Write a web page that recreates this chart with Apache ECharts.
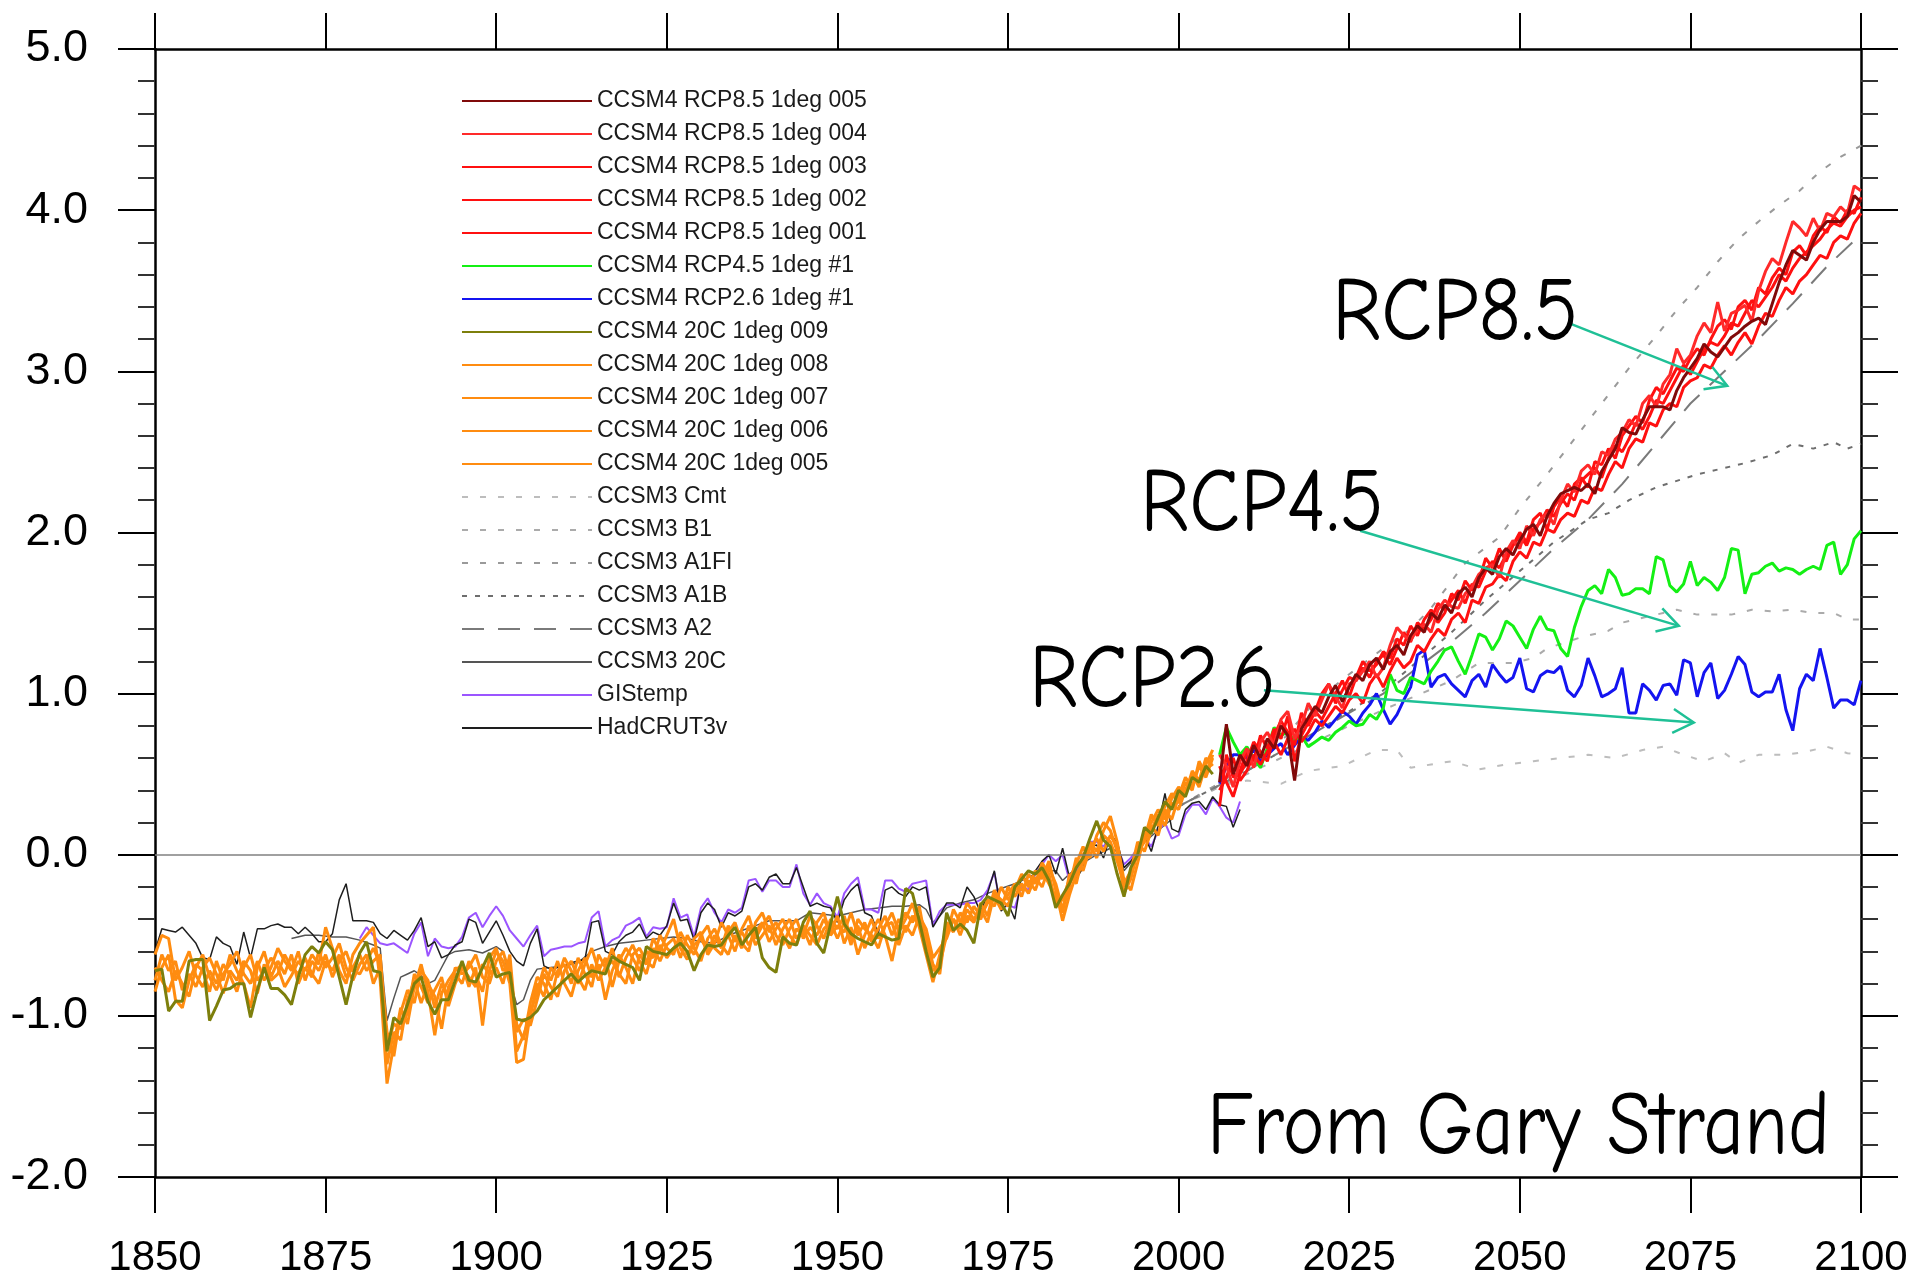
<!DOCTYPE html>
<html>
<head>
<meta charset="utf-8">
<script src="https://cdn.jsdelivr.net/npm/echarts@6/dist/echarts.min.js"></script>
<style>
  html, body { margin: 0; padding: 0; background: #fff; }
  #chart { width: 1911px; height: 1282px; }
</style>
</head>
<body>
<div id="chart"></div>
<script>
// ---- data (global mean temperature anomaly, deg C) ----
const xTicks = [1850, 1875, 1900, 1925, 1950, 1975, 2000, 2025, 2050, 2075, 2100];
const yTicks = [-2, -1, 0, 1, 2, 3, 4, 5];

// CCSM4 20th century runs, annual 1850-2005
const histStart = 1850;
const hist009 = [
  -0.72,-0.71,-0.97,-0.91,-0.91,-0.66,-0.65,-0.65,-1.03,-0.94,
  -0.84,-0.83,-0.80,-0.80,-1.01,-0.84,-0.70,-0.83,-0.83,-0.87,
  -0.93,-0.76,-0.62,-0.57,-0.61,-0.54,-0.59,-0.76,-0.93,-0.75,
  -0.61,-0.54,-0.72,-0.73,-1.22,-1.01,-1.05,-0.93,-0.80,-0.76,
  -0.91,-0.99,-0.90,-0.90,-0.78,-0.66,-0.78,-0.79,-0.70,-0.61,
  -0.76,-0.74,-0.73,-1.02,-1.03,-1.01,-0.97,-0.90,-0.86,-0.82,
  -0.78,-0.74,-0.79,-0.75,-0.72,-0.73,-0.74,-0.63,-0.66,-0.68,
  -0.70,-0.78,-0.57,-0.60,-0.61,-0.62,-0.58,-0.55,-0.60,-0.72,
  -0.62,-0.56,-0.57,-0.56,-0.50,-0.45,-0.56,-0.50,-0.45,-0.64,
  -0.70,-0.73,-0.51,-0.55,-0.56,-0.42,-0.35,-0.55,-0.61,-0.43,
  -0.26,-0.43,-0.49,-0.52,-0.54,-0.56,-0.49,-0.51,-0.53,-0.52,
  -0.21,-0.24,-0.41,-0.60,-0.76,-0.70,-0.36,-0.47,-0.43,-0.47,
  -0.55,-0.31,-0.26,-0.28,-0.30,-0.38,-0.20,-0.15,-0.10,-0.12,
  -0.08,-0.16,-0.33,-0.25,-0.18,-0.08,-0.02,0.10,0.21,0.09,
  0.05,-0.12,-0.26,-0.08,0.00,0.17,0.13,0.23,0.33,0.28,
  0.40,0.36,0.48,0.45,0.55,0.50
];
const hist008 = [
  -0.62,-0.50,-0.52,-0.78,-0.70,-0.60,-0.75,-0.82,-0.72,-0.80,
  -0.68,-0.75,-0.85,-0.70,-0.62,-0.78,-0.72,-0.64,-0.70,-0.82,
  -0.75,-0.66,-0.72,-0.62,-0.68,-0.45,-0.58,-0.72,-0.80,-0.62,
  -0.55,-0.50,-0.45,-0.78,-1.42,-1.18,-0.95,-1.05,-0.82,-0.68,
  -0.85,-1.12,-0.86,-0.78,-0.72,-0.68,-0.82,-0.70,-1.06,-0.72,
  -0.60,-0.66,-0.80,-1.29,-1.27,-0.98,-0.85,-0.70,-0.78,-0.66,
  -0.80,-0.88,-0.72,-0.64,-0.76,-0.68,-0.90,-0.72,-0.62,-0.70,
  -0.80,-0.62,-0.68,-0.52,-0.60,-0.50,-0.40,-0.58,-0.65,-0.52,
  -0.48,-0.62,-0.55,-0.42,-0.50,-0.60,-0.46,-0.38,-0.52,-0.44,
  -0.38,-0.50,-0.56,-0.46,-0.40,-0.52,-0.45,-0.50,-0.40,-0.48,
  -0.38,-0.55,-0.45,-0.62,-0.50,-0.40,-0.52,-0.44,-0.36,-0.48,
  -0.40,-0.30,-0.45,-0.62,-0.79,-0.62,-0.45,-0.40,-0.50,-0.38,
  -0.42,-0.30,-0.38,-0.22,-0.30,-0.25,-0.18,-0.26,-0.12,-0.18,
  -0.05,-0.12,-0.30,-0.28,-0.15,-0.06,0.05,-0.02,0.12,0.20,
  0.15,0.02,-0.20,-0.12,0.05,0.10,0.25,0.18,0.30,0.38,
  0.32,0.45,0.40,0.58,0.50,0.62
];
const hist007 = [
  -0.85,-0.70,-0.62,-0.90,-0.95,-0.78,-0.68,-0.72,-0.85,-0.66,
  -0.78,-0.62,-0.72,-0.80,-0.95,-0.70,-0.60,-0.76,-0.66,-0.74,
  -0.62,-0.80,-0.70,-0.76,-0.60,-0.70,-0.64,-0.55,-0.70,-0.78,
  -0.68,-0.62,-0.80,-0.70,-1.30,-1.10,-1.15,-0.90,-0.78,-0.92,
  -0.80,-0.88,-1.08,-0.82,-0.74,-0.80,-0.66,-0.75,-0.85,-0.64,
  -0.58,-0.72,-0.68,-1.22,-1.12,-1.00,-0.80,-0.88,-0.70,-0.76,
  -0.64,-0.72,-0.80,-0.68,-0.58,-0.72,-0.64,-0.82,-0.66,-0.58,
  -0.64,-0.72,-0.60,-0.64,-0.50,-0.58,-0.62,-0.48,-0.56,-0.62,
  -0.50,-0.44,-0.58,-0.62,-0.48,-0.42,-0.55,-0.60,-0.42,-0.36,
  -0.48,-0.42,-0.50,-0.58,-0.46,-0.50,-0.38,-0.44,-0.52,-0.40,
  -0.46,-0.38,-0.52,-0.44,-0.58,-0.48,-0.40,-0.50,-0.66,-0.45,
  -0.36,-0.42,-0.32,-0.55,-0.72,-0.68,-0.50,-0.34,-0.42,-0.30,
  -0.36,-0.40,-0.28,-0.32,-0.20,-0.28,-0.22,-0.12,-0.20,-0.10,
  -0.15,-0.04,-0.22,-0.41,-0.25,-0.12,-0.05,0.08,0.02,0.15,
  0.24,0.08,-0.16,-0.22,-0.05,0.12,0.20,0.28,0.22,0.35,
  0.42,0.38,0.52,0.46,0.60,0.55
];
const hist006 = [
  -0.70,-0.78,-0.85,-0.72,-0.80,-0.88,-0.70,-0.62,-0.76,-0.84,
  -0.74,-0.68,-0.60,-0.74,-0.80,-0.66,-0.78,-0.70,-0.58,-0.66,
  -0.72,-0.60,-0.78,-0.66,-0.72,-0.62,-0.76,-0.66,-0.60,-0.72,
  -0.74,-0.66,-0.58,-0.68,-1.10,-1.25,-0.98,-0.84,-0.92,-0.72,
  -0.78,-0.95,-0.80,-0.88,-0.70,-0.74,-0.70,-0.62,-0.76,-0.80,
  -0.66,-0.60,-0.74,-1.05,-1.15,-0.92,-0.76,-0.80,-0.90,-0.72,
  -0.68,-0.80,-0.64,-0.74,-0.82,-0.62,-0.70,-0.58,-0.76,-0.64,
  -0.56,-0.66,-0.74,-0.58,-0.66,-0.56,-0.52,-0.64,-0.50,-0.58,
  -0.66,-0.52,-0.46,-0.56,-0.62,-0.50,-0.58,-0.44,-0.56,-0.50,
  -0.44,-0.56,-0.46,-0.40,-0.52,-0.46,-0.56,-0.42,-0.36,-0.50,
  -0.44,-0.48,-0.36,-0.50,-0.42,-0.54,-0.46,-0.38,-0.50,-0.40,
  -0.48,-0.38,-0.44,-0.50,-0.68,-0.74,-0.42,-0.48,-0.36,-0.42,
  -0.32,-0.38,-0.30,-0.26,-0.34,-0.20,-0.26,-0.18,-0.24,-0.14,
  -0.20,-0.08,-0.18,-0.34,-0.20,-0.02,-0.10,0.04,0.10,0.02,
  0.12,0.05,-0.24,-0.15,0.02,0.08,0.18,0.12,0.28,0.22,
  0.36,0.48,0.42,0.55,0.48,0.60
];
const hist005 = [
  -0.78,-0.62,-0.72,-0.66,-0.84,-0.74,-0.82,-0.70,-0.64,-0.74,
  -0.86,-0.72,-0.78,-0.66,-0.72,-0.86,-0.68,-0.78,-0.74,-0.62,
  -0.70,-0.74,-0.64,-0.74,-0.80,-0.66,-0.72,-0.62,-0.76,-0.70,
  -0.62,-0.72,-0.66,-0.62,-1.18,-1.05,-1.08,-0.98,-0.74,-0.82,
  -0.92,-0.84,-0.76,-0.94,-0.80,-0.70,-0.76,-0.82,-0.68,-0.74,
  -0.70,-0.80,-0.62,-1.10,-1.02,-1.06,-0.90,-0.74,-0.82,-0.88,
  -0.72,-0.66,-0.76,-0.84,-0.68,-0.78,-0.70,-0.66,-0.74,-0.80,
  -0.62,-0.58,-0.66,-0.70,-0.56,-0.64,-0.58,-0.52,-0.62,-0.56,
  -0.52,-0.60,-0.50,-0.58,-0.44,-0.54,-0.48,-0.56,-0.48,-0.42,
  -0.54,-0.46,-0.40,-0.50,-0.56,-0.44,-0.50,-0.56,-0.46,-0.42,
  -0.52,-0.42,-0.56,-0.40,-0.46,-0.50,-0.58,-0.44,-0.42,-0.56,
  -0.44,-0.50,-0.38,-0.46,-0.64,-0.58,-0.52,-0.40,-0.46,-0.34,
  -0.40,-0.34,-0.42,-0.24,-0.28,-0.32,-0.18,-0.22,-0.16,-0.22,
  -0.10,-0.18,-0.26,-0.36,-0.12,-0.18,0.00,0.06,-0.02,0.12,
  0.08,-0.04,-0.18,-0.10,0.08,0.02,0.15,0.25,0.18,0.32,
  0.28,0.40,0.50,0.42,0.56,0.65
];

// observations
const hadcrutStart = 1850;
const hadcrut = [
  -0.60,-0.46,-0.47,-0.48,-0.45,-0.50,-0.55,-0.64,-0.65,-0.51,
  -0.55,-0.57,-0.68,-0.48,-0.64,-0.46,-0.46,-0.44,-0.43,-0.45,
  -0.45,-0.49,-0.45,-0.49,-0.54,-0.54,-0.49,-0.28,-0.18,-0.41,
  -0.41,-0.41,-0.42,-0.49,-0.52,-0.47,-0.50,-0.53,-0.47,-0.39,
  -0.57,-0.54,-0.64,-0.62,-0.56,-0.54,-0.40,-0.42,-0.55,-0.48,
  -0.41,-0.50,-0.60,-0.66,-0.69,-0.55,-0.46,-0.69,-0.71,-0.70,
  -0.69,-0.67,-0.66,-0.65,-0.42,-0.41,-0.60,-0.62,-0.54,-0.50,
  -0.48,-0.43,-0.52,-0.48,-0.50,-0.44,-0.30,-0.41,-0.40,-0.53,
  -0.36,-0.30,-0.34,-0.45,-0.36,-0.38,-0.35,-0.20,-0.18,-0.22,
  -0.14,-0.12,-0.18,-0.18,-0.08,-0.20,-0.32,-0.30,-0.32,-0.33,
  -0.42,-0.28,-0.22,-0.18,-0.36,-0.38,-0.49,-0.22,-0.20,-0.24,
  -0.26,-0.20,-0.22,-0.20,-0.45,-0.38,-0.30,-0.30,-0.33,-0.20,
  -0.26,-0.36,-0.24,-0.10,-0.35,-0.30,-0.40,-0.12,-0.20,-0.10,
  -0.04,0.00,-0.12,0.04,-0.14,-0.15,-0.08,0.05,0.06,-0.02,
  0.12,0.08,-0.08,-0.04,0.02,0.12,0.02,0.18,0.38,0.16,
  0.14,0.28,0.32,0.33,0.28,0.36,0.31,0.30,0.17,0.28
];
const gistempStart = 1880;
const gistemp = [
  -0.52,-0.45,-0.50,-0.55,-0.56,-0.55,-0.58,-0.61,-0.49,-0.42,
  -0.63,-0.52,-0.57,-0.58,-0.57,-0.51,-0.39,-0.36,-0.45,-0.38,
  -0.32,-0.38,-0.47,-0.52,-0.57,-0.50,-0.44,-0.63,-0.59,-0.58,
  -0.57,-0.57,-0.55,-0.54,-0.39,-0.35,-0.57,-0.53,-0.51,-0.44,
  -0.42,-0.39,-0.51,-0.45,-0.46,-0.45,-0.27,-0.39,-0.37,-0.51,
  -0.33,-0.27,-0.36,-0.42,-0.34,-0.36,-0.33,-0.16,-0.15,-0.23,
  -0.16,-0.16,-0.20,-0.20,-0.06,-0.24,-0.31,-0.24,-0.30,-0.32,
  -0.39,-0.24,-0.18,-0.14,-0.34,-0.34,-0.36,-0.16,-0.16,-0.21,
  -0.23,-0.18,-0.17,-0.16,-0.44,-0.35,-0.31,-0.31,-0.31,-0.30,
  -0.30,-0.28,-0.22,-0.11,-0.34,-0.31,-0.33,-0.19,-0.22,-0.12,
  -0.06,0.00,-0.04,0.00,-0.16,-0.10,-0.04,0.08,0.08,0.05,
  0.12,0.05,-0.06,-0.02,0.04,0.11,0.05,0.15,0.20,0.10,
  0.12,0.25,0.31,0.31,0.25,0.35,0.30,0.23,0.20,0.33
];

// CCSM3 (smoother curves, read at irregular years)
const c3histYears = [1870,1872,1874,1876,1878,1880,1882,1883,1884,1885,1886,1887,1888,1889,1890,1891,1892,1893,1894,1896,
  1898,1900,1901,1902,1903,1904,1905,1906,1908,1910,1912,1914,1916,1918,1920,1922,1924,1926,1928,1930,
  1932,1934,1936,1938,1940,1942,1944,1946,1948,1950,1952,1954,1956,1958,1960,1962,1963,1964,1965,1966,
  1968,1970,1972,1974,1976,1978,1980,1982,1983,1984,1986,1988,1990,1991,1992,1993,1995,1997,1999];
const c3histVals = [-0.52,-0.50,-0.50,-0.51,-0.51,-0.53,-0.56,-0.58,-1.03,-0.89,-0.76,-0.74,-0.72,-0.75,-0.80,-0.78,-0.70,-0.62,-0.60,-0.59,
  -0.61,-0.57,-0.60,-0.78,-0.93,-0.90,-0.78,-0.71,-0.70,-0.69,-0.67,-0.60,-0.57,-0.55,-0.54,-0.53,-0.52,-0.51,-0.52,-0.54,
  -0.55,-0.50,-0.47,-0.44,-0.41,-0.41,-0.41,-0.36,-0.37,-0.38,-0.36,-0.34,-0.33,-0.32,-0.32,-0.31,-0.34,-0.42,-0.38,-0.33,
  -0.30,-0.28,-0.24,-0.21,-0.18,-0.14,-0.10,-0.10,-0.16,-0.12,-0.05,0.00,0.04,0.02,-0.10,-0.05,0.08,0.15,0.22];

const cmtYears = [2000,2005,2010,2015,2019,2024,2029,2032,2034,2037,2040,2044,2048,2052,2056,2060,2064,2068,2071,2074,2077,2080,2082,2085,2089,2092,2095,2098,2100];
const cmtVals  = [0.30,0.42,0.46,0.44,0.52,0.55,0.65,0.65,0.54,0.56,0.58,0.53,0.56,0.58,0.60,0.62,0.60,0.65,0.67,0.62,0.58,0.63,0.57,0.62,0.62,0.64,0.67,0.63,0.62];
const b1Years = [2000,2010,2020,2030,2040,2044,2049,2052,2054,2059,2063,2065,2069,2073,2076,2078,2081,2084,2087,2090,2093,2096,2098,2100];
const b1Vals  = [0.30,0.50,0.70,0.90,1.08,1.19,1.19,1.22,1.28,1.35,1.39,1.44,1.48,1.52,1.49,1.49,1.49,1.52,1.51,1.52,1.50,1.50,1.46,1.46];
const a1fiYears = [2000,2005,2010,2015,2020,2025,2030,2034,2037,2042,2047,2050,2054,2058,2062,2066,2070,2073,2076,2079,2082,2085,2088,2091,2094,2097,2100];
const a1fiVals  = [0.30,0.42,0.55,0.70,0.95,1.12,1.28,1.40,1.53,1.81,1.97,2.15,2.36,2.58,2.80,3.02,3.22,3.38,3.52,3.68,3.82,3.93,4.03,4.12,4.24,4.33,4.40];
const a1bYears = [2000,2010,2020,2030,2040,2045,2050,2055,2060,2063,2066,2070,2073,2076,2080,2083,2087,2090,2093,2096,2098,2100];
const a1bVals  = [0.30,0.52,0.76,1.02,1.38,1.58,1.76,1.94,2.08,2.12,2.20,2.28,2.32,2.36,2.40,2.43,2.48,2.55,2.52,2.56,2.52,2.55];
const a2Years = [2000,2010,2020,2030,2040,2045,2050,2055,2060,2065,2070,2075,2080,2085,2090,2095,2100];
const a2Vals  = [0.30,0.52,0.76,1.00,1.32,1.50,1.70,1.90,2.08,2.30,2.55,2.80,3.00,3.20,3.42,3.65,3.85];

// CCSM4 scenario runs, annual 2006-2100
const rcpStart = 2006;
const rcp85_005 = [
  0.45,0.81,0.50,0.62,0.55,0.68,0.60,0.72,0.66,0.80,
  0.74,0.46,0.78,0.85,0.92,0.88,0.98,1.05,0.95,1.04,
  1.12,1.08,1.18,1.22,1.15,1.26,1.30,1.24,1.36,1.42,
  1.38,1.50,1.46,1.55,1.50,1.62,1.66,1.60,1.72,1.78,
  1.74,1.85,1.90,1.86,1.95,2.02,2.05,1.98,2.10,2.18,
  2.24,2.26,2.28,2.26,2.30,2.24,2.38,2.45,2.52,2.65,
  2.62,2.61,2.70,2.78,2.78,2.78,2.76,2.88,2.96,3.02,
  3.08,3.17,3.12,3.09,3.15,3.21,3.24,3.28,3.31,3.33,
  3.29,3.42,3.55,3.66,3.75,3.72,3.69,3.80,3.88,3.93,
  3.93,3.93,3.96,4.09,4.05
];
const rcp85_004 = [
  0.62,0.55,0.42,0.58,0.66,0.54,0.70,0.76,0.68,0.84,
  0.89,0.72,0.80,0.94,0.86,0.96,1.06,0.98,0.91,1.06,
  1.08,1.14,1.20,1.10,1.16,1.30,1.41,1.36,1.33,1.40,
  1.43,1.38,1.52,1.58,1.54,1.53,1.62,1.66,1.74,1.78,
  1.80,1.72,1.88,1.95,1.90,2.04,1.98,2.08,2.12,2.05,
  2.20,2.30,2.25,2.38,2.42,2.36,2.50,2.48,2.58,2.62,
  2.70,2.66,2.80,2.85,2.78,2.92,2.98,3.14,3.05,3.10,
  3.22,3.30,3.24,3.43,3.25,3.36,3.38,3.41,3.31,3.50,
  3.62,3.70,3.66,3.80,3.93,3.89,3.84,3.95,3.87,3.98,
  3.96,4.02,3.98,4.15,4.12
];
const rcp85_003 = [
  0.30,0.62,0.48,0.52,0.64,0.58,0.74,0.66,0.78,0.72,
  0.86,0.58,0.74,0.82,0.89,0.84,0.92,1.00,1.08,0.98,
  1.10,1.20,1.14,1.18,1.26,1.22,1.34,1.30,1.42,1.36,
  1.46,1.52,1.44,1.50,1.62,1.58,1.70,1.64,1.70,1.84,
  1.78,1.90,1.82,1.92,2.00,1.94,2.08,2.12,2.02,2.16,
  2.22,2.16,2.30,2.34,2.28,2.44,2.42,2.52,2.46,2.60,
  2.66,2.72,2.68,2.82,2.90,2.86,2.94,3.02,3.00,3.08,
  3.14,3.10,3.20,3.28,3.32,3.26,3.40,3.44,3.38,3.52,
  3.48,3.58,3.64,3.60,3.74,3.78,3.72,3.84,3.90,3.86,
  3.96,3.92,4.00,3.98,4.08
];
const rcp85_002 = [
  0.40,0.48,0.60,0.46,0.52,0.62,0.56,0.64,0.70,0.62,
  0.72,0.78,0.70,0.76,0.84,0.80,0.86,0.92,0.88,0.96,
  1.00,0.94,1.06,1.12,1.04,1.14,1.22,1.16,1.20,1.30,
  1.26,1.34,1.40,1.36,1.46,1.50,1.44,1.58,1.56,1.66,
  1.68,1.74,1.70,1.82,1.88,1.84,1.94,1.92,2.02,2.00,
  2.08,2.12,2.10,2.20,2.18,2.28,2.26,2.36,2.44,2.40,
  2.52,2.58,2.56,2.68,2.66,2.76,2.80,2.78,2.90,2.94,
  2.96,3.04,3.02,3.10,3.16,3.10,3.18,3.24,3.17,3.28,
  3.36,3.34,3.44,3.52,3.48,3.56,3.60,3.66,3.72,3.70,
  3.80,3.84,3.82,3.92,3.98
];
const rcp85_001 = [
  0.55,0.45,0.36,0.50,0.58,0.70,0.64,0.58,0.74,0.83,
  0.76,0.68,0.88,0.80,0.89,1.00,1.06,0.94,1.02,1.10,
  1.08,1.16,1.10,1.20,1.24,1.18,1.28,1.38,1.32,1.44,
  1.40,1.46,1.56,1.52,1.58,1.64,1.56,1.68,1.66,1.76,
  1.82,1.78,1.86,1.92,1.98,1.92,2.02,2.06,2.14,2.10,
  2.18,2.24,2.20,2.32,2.36,2.40,2.34,2.46,2.54,2.50,
  2.58,2.68,2.64,2.72,2.82,2.80,2.88,2.96,3.04,2.98,
  3.06,3.14,3.18,3.16,3.22,3.30,3.28,3.36,3.44,3.40,
  3.46,3.52,3.60,3.56,3.64,3.70,3.74,3.78,3.82,3.88,
  3.92,3.90,3.96,4.00,4.02
];
const rcp45 = [
  0.62,0.79,0.70,0.62,0.67,0.60,0.54,0.66,0.79,0.74,
  0.76,0.71,0.74,0.67,0.70,0.73,0.71,0.76,0.79,0.83,
  0.80,0.81,0.87,0.84,0.91,1.12,1.02,1.00,1.10,1.08,
  1.06,1.14,1.20,1.27,1.29,1.20,1.12,1.24,1.37,1.35,
  1.27,1.34,1.45,1.42,1.35,1.28,1.40,1.48,1.40,1.39,
  1.28,1.23,1.41,1.54,1.64,1.67,1.62,1.77,1.72,1.61,
  1.62,1.65,1.65,1.62,1.85,1.83,1.67,1.63,1.68,1.82,
  1.67,1.72,1.69,1.64,1.72,1.90,1.89,1.62,1.74,1.75,
  1.79,1.81,1.76,1.78,1.77,1.74,1.77,1.79,1.77,1.92,
  1.94,1.74,1.80,1.96,2.01
];
const rcp26 = [
  0.44,0.55,0.62,0.62,0.60,0.65,0.58,0.62,0.66,0.69,
  0.62,0.68,0.73,0.71,0.76,0.83,0.79,0.84,0.89,0.86,
  0.81,0.88,0.93,1.00,0.90,0.81,0.87,0.96,1.04,1.24,
  1.27,1.04,1.10,1.12,1.06,1.02,0.98,1.08,1.12,1.04,
  1.18,1.12,1.07,1.10,1.22,1.03,1.01,1.11,1.14,1.13,
  1.17,1.02,0.98,1.05,1.22,1.11,0.98,1.00,1.03,1.16,
  0.88,0.88,1.06,1.02,0.96,1.05,1.06,0.99,1.21,1.19,
  0.98,1.13,1.19,0.97,1.02,1.12,1.23,1.18,1.01,0.98,
  1.01,1.01,1.12,0.90,0.77,1.03,1.12,1.08,1.28,1.10,
  0.91,0.96,0.96,0.93,1.08
];

const legendNames = [
  'CCSM4 RCP8.5 1deg 005', 'CCSM4 RCP8.5 1deg 004', 'CCSM4 RCP8.5 1deg 003',
  'CCSM4 RCP8.5 1deg 002', 'CCSM4 RCP8.5 1deg 001', 'CCSM4 RCP4.5 1deg #1',
  'CCSM4 RCP2.6 1deg #1', 'CCSM4 20C 1deg 009', 'CCSM4 20C 1deg 008',
  'CCSM4 20C 1deg 007', 'CCSM4 20C 1deg 006', 'CCSM4 20C 1deg 005',
  'CCSM3 Cmt', 'CCSM3 B1', 'CCSM3 A1FI', 'CCSM3 A1B', 'CCSM3 A2',
  'CCSM3 20C', 'GIStemp', 'HadCRUT3v'
];

// ---- helpers ----
function annual(start, vals) { return vals.map((v, i) => [start + i, v]); }
function zip(xs, ys) { return xs.map((x, i) => [x, ys[i]]); }
function line(name, data, color, width, type) {
  return {
    name: name, type: 'line', data: data,
    symbol: 'none', showSymbol: false, silent: true,
    lineStyle: { color: color, width: width, type: type || 'solid' },
    itemStyle: { color: color }
  };
}

const ORANGE = '#ff8c10';
const RED = '#ff1010';
const TEAL = '#1fc096';
const AXIS_FONT = '"Liberation Sans", Arial, sans-serif';
const HAND_FONT = '"Comic Sans MS", "Comic Neue", "Open Sans", sans-serif';

const series = [
  line('CCSM3 Cmt', zip(cmtYears, cmtVals), '#bdbdbd', 2, [6, 12]),
  line('CCSM3 B1', zip(b1Years, b1Vals), '#ababab', 2, [6, 12]),
  line('CCSM3 A1FI', zip(a1fiYears, a1fiVals), '#9a9a9a', 2, [6, 12]),
  line('CCSM3 A1B', zip(a1bYears, a1bVals), '#6e6e6e', 2, [5, 8]),
  line('CCSM3 A2', zip(a2Years, a2Vals), '#7a7a7a', 2, [22, 14]),
  line('CCSM3 20C', zip(c3histYears, c3histVals), '#555555', 1.5),
  line('GIStemp', annual(gistempStart, gistemp), '#9b55ff', 2),
  line('HadCRUT3v', annual(hadcrutStart, hadcrut), '#1e1e1e', 1.5),
  line('CCSM4 20C 1deg 005', annual(histStart, hist005), ORANGE, 3),
  line('CCSM4 20C 1deg 006', annual(histStart, hist006), ORANGE, 3),
  line('CCSM4 20C 1deg 007', annual(histStart, hist007), ORANGE, 3),
  line('CCSM4 20C 1deg 008', annual(histStart, hist008), ORANGE, 3),
  line('CCSM4 20C 1deg 009', annual(histStart, hist009), '#7d7f0c', 3),
  line('CCSM4 RCP2.6 1deg #1', annual(rcpStart, rcp26), '#1414f0', 3),
  line('CCSM4 RCP4.5 1deg #1', annual(rcpStart, rcp45), '#14f014', 3),
  line('CCSM4 RCP8.5 1deg 001', annual(rcpStart, rcp85_001), RED, 3),
  line('CCSM4 RCP8.5 1deg 002', annual(rcpStart, rcp85_002), RED, 3),
  line('CCSM4 RCP8.5 1deg 003', annual(rcpStart, rcp85_003), RED, 3),
  line('CCSM4 RCP8.5 1deg 004', annual(rcpStart, rcp85_004), '#ff2a2a', 3),
  line('CCSM4 RCP8.5 1deg 005', annual(rcpStart, rcp85_005), '#800a0a', 3)
];
// zero reference line
series[0].markLine = {
  silent: true, symbol: 'none', label: { show: false },
  lineStyle: { color: '#808080', width: 1.5, type: 'solid' },
  data: [{ yAxis: 0 }]
};

const tickStyle = { color: '#000', width: 2 };
function xAxis(pos, labels) {
  return {
    type: 'value', position: pos, min: xTicks[0], max: xTicks[xTicks.length - 1], interval: 25,
    axisLine: { show: true, onZero: false, lineStyle: { color: '#000', width: 2.5 } },
    axisTick: { show: true, inside: false, length: 36, lineStyle: tickStyle },
    axisLabel: { show: labels, margin: 60, fontSize: 42, color: '#000', fontFamily: AXIS_FONT,
      formatter: v => String(v), showMinLabel: true, showMaxLabel: true },
    splitLine: { show: false }
  };
}
function yAxis(pos, labels) {
  return {
    type: 'value', position: pos, min: yTicks[0], max: yTicks[yTicks.length - 1], interval: 1,
    axisLine: { show: true, onZero: false, lineStyle: { color: '#000', width: 2.5 } },
    axisTick: { show: true, inside: false, length: 37, lineStyle: tickStyle },
    minorTick: { show: true, splitNumber: 5, length: 17, lineStyle: { color: '#333', width: 2 } },
    axisLabel: { show: labels, margin: 67, fontSize: 45, color: '#000', fontFamily: AXIS_FONT,
      formatter: v => v.toFixed(1), showMinLabel: true, showMaxLabel: true },
    splitLine: { show: false }
  };
}

const chart = echarts.init(document.getElementById('chart'));
chart.setOption({
  animation: false,
  backgroundColor: '#ffffff',
  grid: { left: 155, right: 50, top: 49, bottom: 105, containLabel: false },
  xAxis: [xAxis('bottom', true), xAxis('top', false)],
  yAxis: [yAxis('left', true), yAxis('right', false)],
  legend: {
    orient: 'vertical', left: 461, top: 89, padding: 0,
    itemWidth: 130, itemHeight: 14, itemGap: 9,
    selectedMode: false,
    itemStyle: { opacity: 0 },
    data: legendNames,
    textStyle: { fontSize: 23, lineHeight: 24, color: '#1a1a1a', fontFamily: AXIS_FONT }
  },
  series: series
});

// ---- annotations (arrows anchored in data space) ----
const arrows = [
  { from: [2057.1, 3.30], to: [2080.4, 2.91] },
  { from: [2026.6, 2.01], to: [2073.3, 1.42] },
  { from: [2012.5, 1.02], to: [2075.5, 0.82] }
];
const labels = [
  { text: 'RCP8.5', x: 1332, y: 314, size: 92, sx: 0.9 },
  { text: 'RCP4.5', x: 1140, y: 505, size: 92, sx: 0.9 },
  { text: 'RCP2.6', x: 1029, y: 681, size: 92, sx: 0.9 },
  { text: 'From Gary Strand', x: 1207, y: 1128, size: 92, sx: 0.86 }
];

const graphic = [];
arrows.forEach(a => {
  const p0 = chart.convertToPixel({ gridIndex: 0 }, a.from);
  const p1 = chart.convertToPixel({ gridIndex: 0 }, a.to);
  const ang = Math.atan2(p0[1] - p1[1], p0[0] - p1[0]);
  const L = 24, spread = Math.PI / 6;
  graphic.push({
    type: 'line', silent: true, z: 100,
    shape: { x1: p0[0], y1: p0[1], x2: p1[0], y2: p1[1] },
    style: { stroke: TEAL, lineWidth: 2.5 }
  });
  graphic.push({
    type: 'polyline', silent: true, z: 100,
    shape: { points: [
      [p1[0] + L * Math.cos(ang + spread), p1[1] + L * Math.sin(ang + spread)],
      p1,
      [p1[0] + L * Math.cos(ang - spread), p1[1] + L * Math.sin(ang - spread)]
    ] },
    style: { stroke: TEAL, lineWidth: 2.5, fill: null }
  });
});
labels.forEach(l => {
  graphic.push({
    type: 'text', silent: true, z: 101, x: l.x, y: l.y, scaleX: l.sx,
    style: {
      text: l.text, fill: '#000',
      font: l.size + 'px ' + HAND_FONT,
      textAlign: 'left', textVerticalAlign: 'middle', verticalAlign: 'middle'
    }
  });
});
chart.setOption({ graphic: graphic });
</script>
</body>
</html>
